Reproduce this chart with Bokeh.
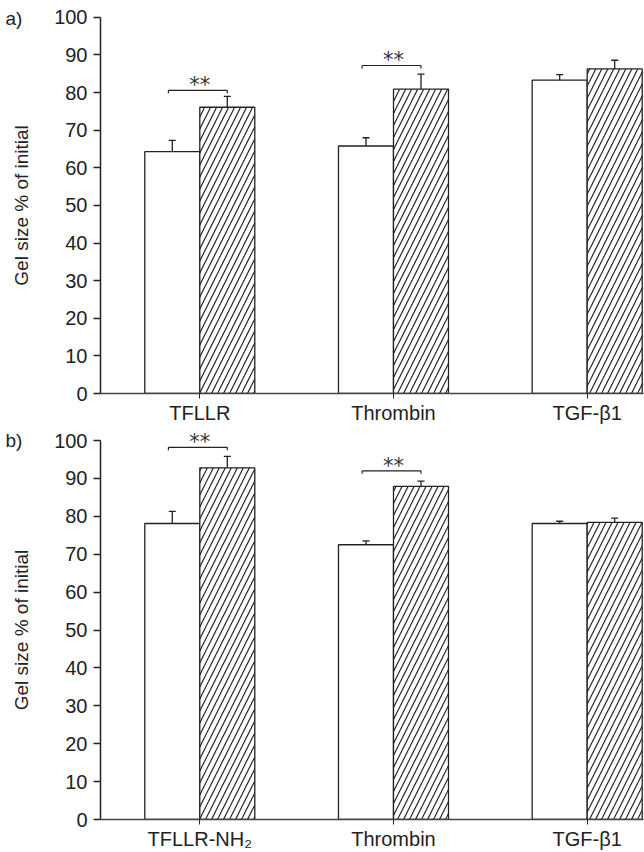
import math
from bokeh.plotting import figure
from bokeh.layouts import column, row
from bokeh.models import Range1d, FixedTicker
from bokeh.embed import file_html
from bokeh.resources import INLINE
from bokeh.core.properties import value

# ---------------- data ----------------
categories_a = ["TFLLR", "Thrombin", "TGF-β1"]
categories_b = ["TFLLR-NH₂", "Thrombin", "TGF-β1"]

control_a = [64.3, 65.8, 83.3]
control_err_a = [3.0, 2.2, 1.5]
treated_a = [76.1, 80.9, 86.3]
treated_err_a = [2.9, 4.0, 2.3]
sig_a = [80.6, 87.2, None]

control_b = [78.1, 72.5, 78.1]
control_err_b = [3.2, 1.0, 0.6]
treated_b = [92.8, 87.9, 78.4]
treated_err_b = [3.0, 1.4, 1.1]
sig_b = [98.2, 92.0, None]

y_ticks = list(range(0, 101, 10))
panel_tags = ["a)", "b)"]
y_label = "Gel size % of initial"

FONT = "Liberation Sans"
INK = "#222222"
X0, X1 = 0.4874, 3.2907
SIDE_W = 50
H = 426
PX_PER_UNIT = 3.79


def make_side(tag, bottom, frame_h, tag_from_top, label_from_top):
    """Narrow strip holding the panel tag and the rotated y-axis title."""
    s = figure(width=SIDE_W, height=H, x_range=Range1d(0, SIDE_W),
               y_range=Range1d(0, frame_h), output_backend="svg",
               toolbar_location=None, x_axis_type=None, y_axis_type=None,
               min_border_left=0, min_border_right=0,
               min_border_top=0, min_border_bottom=bottom)
    s.outline_line_color = None
    s.xgrid.visible = False
    s.ygrid.visible = False
    s.text(x=[5], y=[frame_h - tag_from_top], text=[tag], text_font=value(FONT),
           text_font_size="19px", text_baseline="middle", text_align="left",
           text_color=INK)
    s.text(x=[21], y=[frame_h - label_from_top], text=[y_label],
           text_font=value(FONT), text_font_size="19px",
           text_baseline="middle", text_align="center",
           angle=math.pi / 2, text_color=INK)
    return s


def make_panel(cats, ctrl, ctrl_err, trt, trt_err, sig, bottom):
    frame_h = H - bottom
    p = figure(width=644 - SIDE_W, height=H,
               x_range=Range1d(X0, X1),
               y_range=Range1d(0, frame_h / PX_PER_UNIT),
               output_backend="svg", toolbar_location=None,
               min_border_left=100 - SIDE_W, min_border_right=1,
               min_border_top=0, min_border_bottom=bottom)
    p.outline_line_color = None
    p.xgrid.visible = False
    p.ygrid.visible = False

    xs = [i + 1 for i in range(len(cats))]
    w = 0.284
    xc = [x - w / 2 for x in xs]
    xt = [x + w / 2 for x in xs]

    p.vbar(x=xc, top=ctrl, width=w, bottom=0, fill_color="white",
           line_color=INK, line_width=1.3)
    p.vbar(x=xt, top=trt, width=w, bottom=0, fill_color="white",
           line_color=INK, line_width=1.3, hatch_pattern="/",
           hatch_color=INK, hatch_scale=12, hatch_weight=1.2)

    # error bars (upper only)
    c_hi = [v + e for v, e in zip(ctrl, ctrl_err)]
    t_hi = [v + e for v, e in zip(trt, trt_err)]
    p.segment(x0=xc, y0=ctrl, x1=xc, y1=c_hi, line_color=INK, line_width=1.3)
    p.segment(x0=xt, y0=trt, x1=xt, y1=t_hi, line_color=INK, line_width=1.3)
    p.scatter(x=xc, y=c_hi, marker="dash", size=7, line_color=INK, line_width=1.3)
    p.scatter(x=xt, y=t_hi, marker="dash", size=7, line_color=INK, line_width=1.3)

    # significance brackets
    bx0, bx1, by, dy, tx = [], [], [], [], []
    for i, s in enumerate(sig):
        if s is None:
            continue
        bx0.append(xc[i] - 0.02)
        bx1.append(xt[i])
        by.append(s)
        dy.append(s - 0.8)
        tx.append((xc[i] + xt[i]) / 2)
    p.segment(x0=bx0, y0=by, x1=bx1, y1=by, line_color=INK, line_width=1.2)
    p.segment(x0=bx0, y0=by, x1=bx0, y1=dy, line_color=INK, line_width=1.2)
    p.segment(x0=bx1, y0=by, x1=bx1, y1=dy, line_color=INK, line_width=1.2)
    p.text(x=tx, y=[b + 1.4 for b in by], text=["**"] * len(tx),
           text_font=value("DejaVu Sans"), text_font_size="21px",
           text_align="center", text_baseline="middle", text_color="#333333")

    # axes
    p.xaxis.ticker = FixedTicker(ticks=xs)
    p.xaxis.major_label_overrides = {x: c for x, c in zip(xs, cats)}
    p.xaxis.major_tick_in = 0
    p.xaxis.major_tick_out = 5
    p.xaxis.minor_tick_out = 0
    p.xaxis.minor_tick_in = 0
    p.xaxis.axis_line_width = 1.5
    p.xaxis.axis_line_color = "#444444"
    p.xaxis.major_tick_line_color = INK
    p.xaxis.major_label_standoff = 3
    p.xaxis.major_label_text_font = FONT
    p.xaxis.major_label_text_font_size = "20px"
    p.xaxis.major_label_text_color = INK

    p.yaxis.ticker = FixedTicker(ticks=y_ticks)
    p.yaxis.bounds = (0, 100)
    p.yaxis.major_tick_in = 0
    p.yaxis.major_tick_out = 7
    p.yaxis.minor_tick_out = 0
    p.yaxis.minor_tick_in = 0
    p.yaxis.axis_line_width = 1.5
    p.yaxis.axis_line_color = INK
    p.yaxis.major_tick_line_color = INK
    p.yaxis.major_tick_line_width = 1.3
    p.yaxis.major_label_standoff = 6
    p.yaxis.major_label_text_font = FONT
    p.yaxis.major_label_text_font_size = "20px"
    p.yaxis.major_label_text_color = INK
    return p


BOT_A, BOT_B = 30, 33
pa = make_panel(categories_a, control_a, control_err_a, treated_a, treated_err_a,
                sig_a, BOT_A)
pb = make_panel(categories_b, control_b, control_err_b, treated_b, treated_err_b,
                sig_b, BOT_B)

sa = make_side(panel_tags[0], BOT_A, H - BOT_A, 18, 206.5)
sb = make_side(panel_tags[1], BOT_B, H - BOT_B, 14, 203.5)

layout = column(row(sa, pa, spacing=0), row(sb, pb, spacing=0), spacing=0)
open("out.html", "w").write(file_html(layout, INLINE))
